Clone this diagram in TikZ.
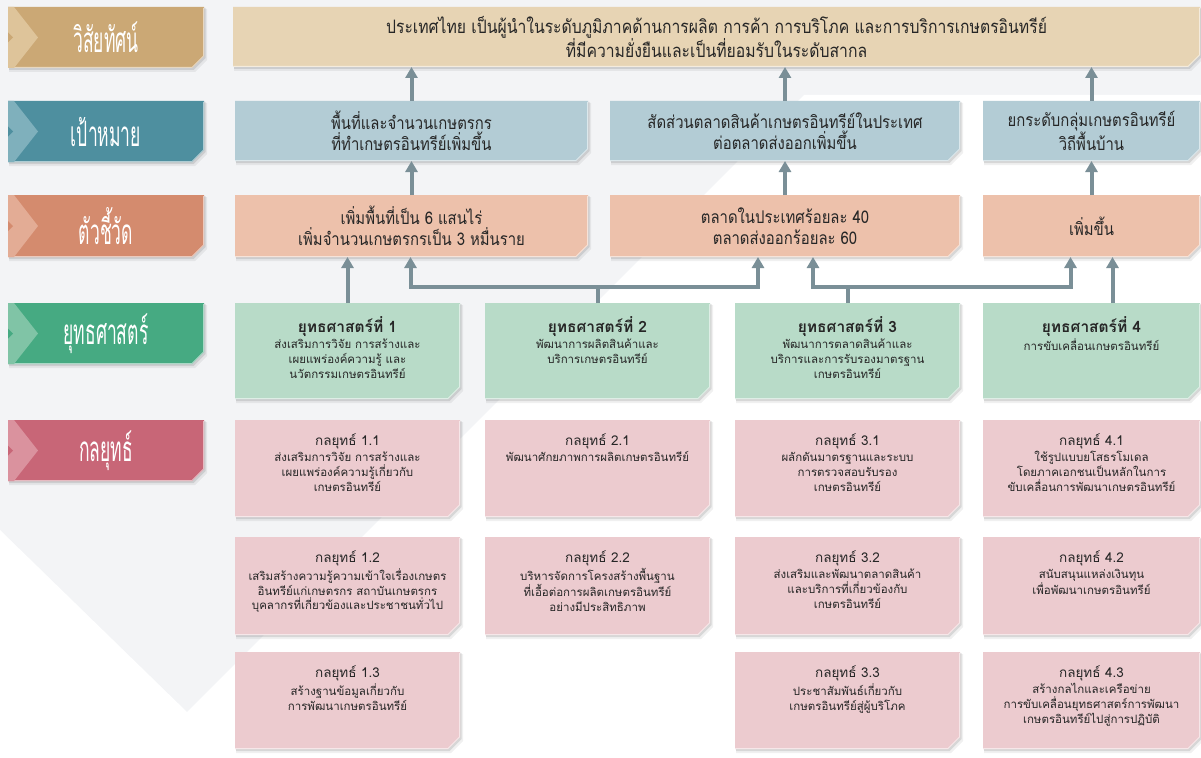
\documentclass[tikz,border=0pt]{standalone}
\usepackage{fontspec}
\usetikzlibrary{arrows.meta}
\newfontfamily\thai[Script=Thai]{Loma}
\newfontfamily\thaiC[Script=Thai,FakeStretch=0.85]{Loma}
\newfontfamily\thaiL[Script=Thai,FakeStretch=0.5]{Loma}
\definecolor{bgc}{HTML}{F3F4F6}
\definecolor{visL}{HTML}{CBA875}\definecolor{visLL}{HTML}{DEC49A}\definecolor{visB}{HTML}{E7D4B4}
\definecolor{golL}{HTML}{4E8F9F}\definecolor{golLL}{HTML}{7FB0BC}\definecolor{golB}{HTML}{B3CCD5}
\definecolor{indL}{HTML}{D48B6E}\definecolor{indLL}{HTML}{E3AC95}\definecolor{indB}{HTML}{EDC1AB}
\definecolor{strL}{HTML}{46AA82}\definecolor{strLL}{HTML}{80C4A6}\definecolor{strB}{HTML}{B8DBC8}
\definecolor{tacL}{HTML}{C86677}\definecolor{tacLL}{HTML}{DA929E}\definecolor{tacB}{HTML}{ECCBCF}
\definecolor{connc}{HTML}{7A8F97}
\definecolor{txt}{HTML}{262626}
\newcommand\cbox[6]{%
  \fill[black,opacity=.06] ({#2+1},{#3+2}) -- ({#4+3},{#3+2}) -- ({#4+3},{#5+4-12}) -- ({#4+3-12},{#5+4}) -- ({#2+1},{#5+4}) -- cycle;
  \fill[black,opacity=.10] ({#2+1},{#3+1}) -- ({#4+1.5},{#3+1}) -- ({#4+1.5},{#5+2-12}) -- ({#4+1.5-12},{#5+2}) -- ({#2+1},{#5+2}) -- cycle;
  \fill[#6] (#2,#3) -- (#4,#3) -- (#4,{#5-12}) -- ({#4-12},#5) -- (#2,#5) -- cycle;
  \draw[white,opacity=.55,line width=1pt] (#2,{#5-0.5}) -- ({#4-12},{#5-0.5}) -- ({#4-0.5},{#5-12}) -- ({#4-0.5},{#3+1});
  \node[inner sep=0pt,outer sep=0pt,minimum width={(#4-#2)*1pt},minimum height={(#5-#3)*1pt}] (#1) at ({(#2+#4)/2},{(#3+#5)/2}) {};
}
\newcommand\lbox[6]{%
  \cbox{#1}{8}{#2}{204}{#3}{#4}
  \fill[#5] (8,#2) -- (14,#2) -- (38,{(#2+#3)/2}) -- (14,#3) -- (8,#3) -- cycle;
  \fill[#4] (8,{(#2+#3)/2-5}) -- (13,{(#2+#3)/2}) -- (8,{(#2+#3)/2+5}) -- cycle;
  \node[lbl] (#1t) at (106,{(#2+#3)/2}) {#6};
}
\tikzset{
  lbl/.style={text=white,font=\thaiL\fontsize{35}{38}\selectfont,inner sep=0pt},
  btext/.style={text=txt,align=center,font=\thaiC\fontsize{17.5}{21}\selectfont,inner sep=0pt},
  stext/.style={text=txt,align=center,font=\thai\fontsize{11.5}{14.8}\selectfont,inner sep=0pt,anchor=north},
  conn/.style={draw=connc,line width=4pt},
  arr/.style={conn,-{Triangle[width=12pt,length=11pt]}},
  arr2/.style={conn,{Triangle[width=12pt,length=11pt]}-{Triangle[width=12pt,length=11pt]}},
}
\newcommand\sttl[1]{{\bfseries\fontsize{15.5}{17}\selectfont #1}}
\newcommand\tttl[1]{{\fontsize{13.5}{15}\selectfont #1}}
\begin{document}
\begin{tikzpicture}[x=1pt,y=-1pt]
\useasboundingbox (0,0) rectangle (1201,757);
% background
\fill[bgc] (0,0) rectangle (1201,757);
\fill[white] (0,530) -- (187,712) -- (804,95) -- (1201,95) -- (1201,757) -- (0,757) -- cycle;
% row labels
\lbox{lv}{7}{68}{visL}{visLL}{วิสัยทัศน์}
\lbox{lg}{101}{162}{golL}{golLL}{เป้าหมาย}
\lbox{li}{195}{257}{indL}{indLL}{ตัวชี้วัด}
\lbox{ls}{303}{364}{strL}{strLL}{ยุทธศาสตร์}
\lbox{lt}{420}{481}{tacL}{tacLL}{กลยุทธ์}
% vision
\cbox{v}{233}{7}{1200}{67}{visB}
\node[btext,font=\thaiC\fontsize{18.5}{21}\selectfont] (vt) at (v) {ประเทศไทย เป็นผู้นำในระดับภูมิภาคด้านการผลิต การค้า การบริโภค และการบริการเกษตรอินทรีย์\\ที่มีความยั่งยืนและเป็นที่ยอมรับในระดับสากล};
% goals
\cbox{g1}{235}{101}{588}{161}{golB}
\cbox{g2}{610}{101}{960}{161}{golB}
\cbox{g3}{983}{101}{1200}{161}{golB}
\node[btext] (g1t) at (g1) {พื้นที่และจำนวนเกษตรกร\\ที่ทำเกษตรอินทรีย์เพิ่มขึ้น};
\node[btext] (g2t) at (g2) {สัดส่วนตลาดสินค้าเกษตรอินทรีย์ในประเทศ\\ต่อตลาดส่งออกเพิ่มขึ้น};
\node[btext] (g3t) at (g3) {ยกระดับกลุ่มเกษตรอินทรีย์\\วิถีพื้นบ้าน};
% indicators
\cbox{i1}{235}{195}{588}{257}{indB}
\cbox{i2}{610}{195}{960}{257}{indB}
\cbox{i3}{983}{195}{1200}{257}{indB}
\node[btext] (i1t) at (i1) {เพิ่มพื้นที่เป็น 6 แสนไร่\\เพิ่มจำนวนเกษตรกรเป็น 3 หมื่นราย};
\node[btext] (i2t) at (i2) {ตลาดในประเทศร้อยละ 40\\ตลาดส่งออกร้อยละ 60};
\node[btext] (i3t) at (i3) {เพิ่มขึ้น};
% strategies
\cbox{s1}{235}{303}{460}{399}{strB}
\cbox{s2}{485}{303}{710}{399}{strB}
\cbox{s3}{735}{303}{960}{399}{strB}
\cbox{s4}{983}{303}{1200}{399}{strB}
\node[stext] (s1t) at ([yshift=-13pt]s1.north) {\sttl{ยุทธศาสตร์ที่ 1}\\[1.5pt]ส่งเสริมการวิจัย การสร้างและ\\เผยแพร่องค์ความรู้ และ\\นวัตกรรมเกษตรอินทรีย์};
\node[stext] (s2t) at ([yshift=-13pt]s2.north) {\sttl{ยุทธศาสตร์ที่ 2}\\[1.5pt]พัฒนาการผลิตสินค้าและ\\บริการเกษตรอินทรีย์};
\node[stext] (s3t) at ([yshift=-13pt]s3.north) {\sttl{ยุทธศาสตร์ที่ 3}\\[1.5pt]พัฒนาการตลาดสินค้าและ\\บริการและการรับรองมาตรฐาน\\เกษตรอินทรีย์};
\node[stext] (s4t) at ([yshift=-13pt]s4.north) {\sttl{ยุทธศาสตร์ที่ 4}\\[1.5pt]การขับเคลื่อนเกษตรอินทรีย์};
% tactics
\cbox{t11}{235}{420}{460}{517}{tacB}
\cbox{t21}{485}{420}{710}{517}{tacB}
\cbox{t31}{735}{420}{960}{517}{tacB}
\cbox{t41}{983}{420}{1200}{517}{tacB}
\cbox{t12}{235}{537}{460}{635}{tacB}
\cbox{t22}{485}{537}{710}{635}{tacB}
\cbox{t32}{735}{537}{960}{635}{tacB}
\cbox{t42}{983}{537}{1200}{635}{tacB}
\cbox{t13}{235}{652}{460}{749}{tacB}
\cbox{t33}{735}{652}{960}{749}{tacB}
\cbox{t43}{983}{652}{1200}{749}{tacB}
\node[stext] (t11t) at ([yshift=-13pt]t11.north) {\tttl{กลยุทธ์ 1.1}\\[2pt]ส่งเสริมการวิจัย การสร้างและ\\เผยแพร่องค์ความรู้เกี่ยวกับ\\เกษตรอินทรีย์};
\node[stext] (t21t) at ([yshift=-13pt]t21.north) {\tttl{กลยุทธ์ 2.1}\\[2pt]พัฒนาศักยภาพการผลิตเกษตรอินทรีย์};
\node[stext] (t31t) at ([yshift=-13pt]t31.north) {\tttl{กลยุทธ์ 3.1}\\[2pt]ผลักดันมาตรฐานและระบบ\\การตรวจสอบรับรอง\\เกษตรอินทรีย์};
\node[stext] (t41t) at ([yshift=-13pt]t41.north) {\tttl{กลยุทธ์ 4.1}\\[2pt]ใช้รูปแบบยโสธรโมเดล\\โดยภาคเอกชนเป็นหลักในการ\\ขับเคลื่อนการพัฒนาเกษตรอินทรีย์};
\node[stext] (t12t) at ([yshift=-13pt]t12.north) {\tttl{กลยุทธ์ 1.2}\\[2pt]เสริมสร้างความรู้ความเข้าใจเรื่องเกษตร\\อินทรีย์แก่เกษตรกร สถาบันเกษตรกร\\บุคลากรที่เกี่ยวข้องและประชาชนทั่วไป};
\node[stext] (t22t) at ([yshift=-13pt]t22.north) {\tttl{กลยุทธ์ 2.2}\\[2pt]บริหารจัดการโครงสร้างพื้นฐาน\\ที่เอื้อต่อการผลิตเกษตรอินทรีย์\\อย่างมีประสิทธิภาพ};
\node[stext] (t32t) at ([yshift=-13pt]t32.north) {\tttl{กลยุทธ์ 3.2}\\[2pt]ส่งเสริมและพัฒนาตลาดสินค้า\\และบริการที่เกี่ยวข้องกับ\\เกษตรอินทรีย์};
\node[stext] (t42t) at ([yshift=-13pt]t42.north) {\tttl{กลยุทธ์ 4.2}\\[2pt]สนับสนุนแหล่งเงินทุน\\เพื่อพัฒนาเกษตรอินทรีย์};
\node[stext] (t13t) at ([yshift=-13pt]t13.north) {\tttl{กลยุทธ์ 1.3}\\[2pt]สร้างฐานข้อมูลเกี่ยวกับ\\การพัฒนาเกษตรอินทรีย์};
\node[stext] (t33t) at ([yshift=-13pt]t33.north) {\tttl{กลยุทธ์ 3.3}\\[2pt]ประชาสัมพันธ์เกี่ยวกับ\\เกษตรอินทรีย์สู่ผู้บริโภค};
\node[stext] (t43t) at ([yshift=-13pt]t43.north) {\tttl{กลยุทธ์ 4.3}\\[2pt]สร้างกลไกและเครือข่าย\\การขับเคลื่อนยุทธศาสตร์การพัฒนา\\เกษตรอินทรีย์ไปสู่การปฏิบัติ};
% connectors
\coordinate (bus) at (0,287);
\draw[arr] (g1.north) -- (g1.north |- v.south);
\draw[arr] (g2.north) -- (g2.north |- v.south);
\draw[arr] (g3.north) -- (g3.north |- v.south);
\draw[arr] (i1.north) -- (g1.south);
\draw[arr] (i2.north) -- (g2.south);
\draw[arr] (i3.north) -- (g3.south);
\draw[arr] (s1.north) -- (s1.north |- i1.south);
\draw[conn] (s2.north) -- (s2.north |- bus);
\draw[arr2] ([xshift=-27pt]i2.south) |- (s2.north |- bus) -| ([xshift=-1pt]i1.south);
\draw[conn] (s3.north) -- (s3.north |- bus);
\draw[arr2] ([xshift=28pt]i2.south) |- (s3.north |- bus) -| ([xshift=-21pt]i3.south);
\draw[arr] ([xshift=21pt]s4.north) -- ([xshift=21pt]s4.north |- i3.south);
\end{tikzpicture}
\end{document}
